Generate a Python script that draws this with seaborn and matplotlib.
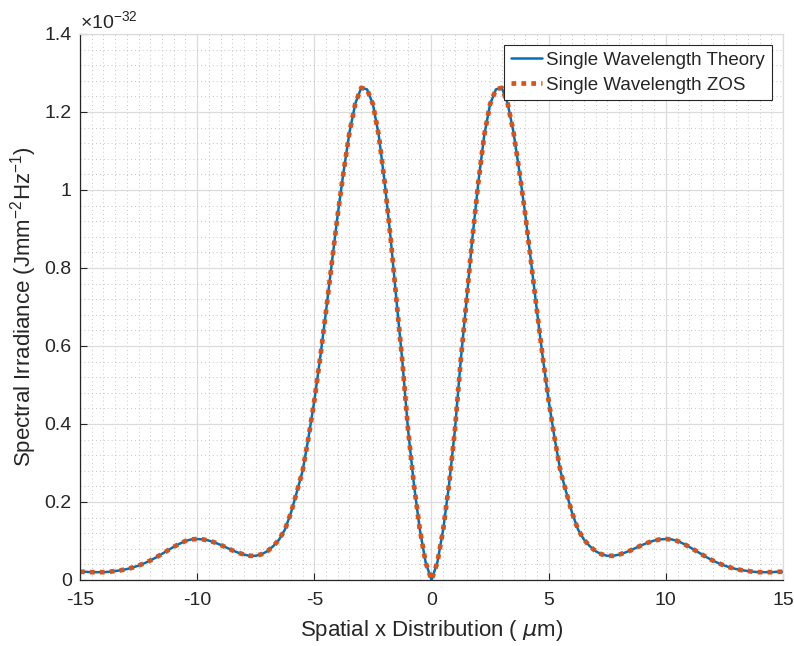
import numpy as np
import pandas as pd
import matplotlib
matplotlib.use('Agg')
import matplotlib.pyplot as plt
from matplotlib.ticker import MultipleLocator
import seaborn as sns

# sample positions (um) and irradiance (x 1e-32)
x_um = np.linspace(-15, 15, 121)

theory = [0.021, 0.021, 0.020, 0.020, 0.020, 0.021, 0.023, 0.025, 0.028, 0.032,
          0.037, 0.043, 0.050, 0.058, 0.067, 0.076, 0.085, 0.093, 0.100, 0.104,
          0.105, 0.104, 0.101, 0.096, 0.090, 0.083, 0.076, 0.070, 0.065, 0.062,
          0.062, 0.066, 0.074, 0.087, 0.104, 0.130, 0.172, 0.225, 0.280, 0.365,
          0.460, 0.570, 0.690, 0.815, 0.938, 1.048, 1.148, 1.222, 1.262, 1.258,
          1.220, 1.140, 1.020, 0.880, 0.720, 0.565, 0.385, 0.245, 0.130, 0.045,
          0.000,
          0.045, 0.130, 0.245, 0.385, 0.565, 0.720, 0.880, 1.020, 1.140, 1.220,
          1.258, 1.262, 1.222, 1.148, 1.048, 0.938, 0.815, 0.690, 0.570, 0.460,
          0.365, 0.280, 0.225, 0.172, 0.130, 0.104, 0.087, 0.074, 0.066, 0.062,
          0.062, 0.065, 0.070, 0.076, 0.083, 0.090, 0.096, 0.101, 0.104, 0.105,
          0.104, 0.100, 0.093, 0.085, 0.076, 0.067, 0.058, 0.050, 0.043, 0.037,
          0.032, 0.028, 0.025, 0.023, 0.021, 0.020, 0.020, 0.020, 0.021, 0.021]

zos = [0.021, 0.021, 0.020, 0.020, 0.020, 0.021, 0.023, 0.025, 0.028, 0.032,
       0.037, 0.043, 0.050, 0.058, 0.067, 0.076, 0.085, 0.093, 0.100, 0.104,
       0.105, 0.104, 0.101, 0.096, 0.090, 0.083, 0.076, 0.070, 0.065, 0.062,
       0.062, 0.066, 0.074, 0.087, 0.104, 0.130, 0.172, 0.225, 0.280, 0.365,
       0.460, 0.570, 0.690, 0.815, 0.938, 1.048, 1.148, 1.222, 1.262, 1.258,
       1.220, 1.140, 1.020, 0.880, 0.720, 0.565, 0.385, 0.245, 0.130, 0.045,
       0.000,
       0.045, 0.130, 0.245, 0.385, 0.565, 0.720, 0.880, 1.020, 1.140, 1.220,
       1.258, 1.262, 1.222, 1.148, 1.048, 0.938, 0.815, 0.690, 0.570, 0.460,
       0.365, 0.280, 0.225, 0.172, 0.130, 0.104, 0.087, 0.074, 0.066, 0.062,
       0.062, 0.065, 0.070, 0.076, 0.083, 0.090, 0.096, 0.101, 0.104, 0.105,
       0.104, 0.100, 0.093, 0.085, 0.076, 0.067, 0.058, 0.050, 0.043, 0.037,
       0.032, 0.028, 0.025, 0.023, 0.021, 0.020, 0.020, 0.020, 0.021, 0.021]

x_ticks = [-15, -10, -5, 0, 5, 10, 15]
y_ticks = [0, 0.2, 0.4, 0.6, 0.8, 1.0, 1.2, 1.4]
y_ticklabels = ['0', '0.2', '0.4', '0.6', '0.8', '1', '1.2', '1.4']

sns.set_theme(style='white')
plt.rcParams['font.family'] = ['Liberation Sans', 'DejaVu Sans']
plt.rcParams['mathtext.default'] = 'regular'
plt.rcParams['axes.unicode_minus'] = False

df = pd.DataFrame({'x': x_um, 'theory': theory, 'zos': zos})

fig = plt.figure(figsize=(7.94, 6.46), dpi=100)
ax = fig.add_axes([0.1008, 0.1022, 0.8853, 0.8452])

sns.lineplot(data=df, x='x', y='theory', ax=ax, color='#0072BD', lw=1.8,
             label='Single Wavelength Theory')
sns.lineplot(data=df, x='x', y='zos', ax=ax, color='#D95319', lw=3.4,
             label='Single Wavelength ZOS')
# square dotted ZOS line, like MATLAB ':'
zline = ax.get_lines()[1]
zline.set_linestyle((0, (1, 1.1)))
zline.set_dash_capstyle('butt')

ax.set_xlim(-15, 15)
ax.set_ylim(0, 1.4)
ax.set_xticks(x_ticks)
ax.set_xticklabels([str(t) for t in x_ticks])
ax.set_yticks(y_ticks)
ax.set_yticklabels(y_ticklabels)
ax.xaxis.set_minor_locator(MultipleLocator(0.5))
ax.yaxis.set_minor_locator(MultipleLocator(0.04))

ax.grid(True, which='major', color='#dcdcdc', lw=0.9, ls='-')
ax.grid(True, which='minor', color='#c4c4c4', lw=0.7, ls=(0, (1, 3)))
ax.set_axisbelow(True)

ax.tick_params(which='major', direction='in', length=5, width=0.8,
               colors='#262626', labelsize=14,
               bottom=True, left=True, top=False, right=False)
ax.tick_params(axis='x', which='major', pad=9)
ax.tick_params(axis='y', which='major', pad=6)
ax.tick_params(which='minor', length=0)

for s in ['left', 'bottom']:
    ax.spines[s].set_color('#262626')
    ax.spines[s].set_linewidth(0.9)
for s in ['top', 'right']:
    ax.spines[s].set_color('#dcdcdc')
    ax.spines[s].set_linewidth(0.9)

ax.set_xlabel(r'Spatial x Distribution ( $\mathit{\mu}$m)', fontsize=16,
              color='#262626', labelpad=6)
ax.set_ylabel(r'Spectral Irradiance (Jmm$^{-2}$Hz$^{-1}$)', fontsize=16,
              color='#262626', labelpad=4)

ax.text(0.0, 1.004, r'$\times$10$^{-32}$', transform=ax.transAxes,
        fontsize=14, color='#262626', ha='left', va='bottom')

leg = ax.legend(loc='upper right', fontsize=13.5, frameon=True, fancybox=False,
                edgecolor='#262626', framealpha=1, borderpad=0.35,
                handlelength=1.65, handletextpad=0.25, labelspacing=0.4,
                borderaxespad=0.6)
leg.get_frame().set_linewidth(0.8)

fig.savefig('out.png', dpi=100)
